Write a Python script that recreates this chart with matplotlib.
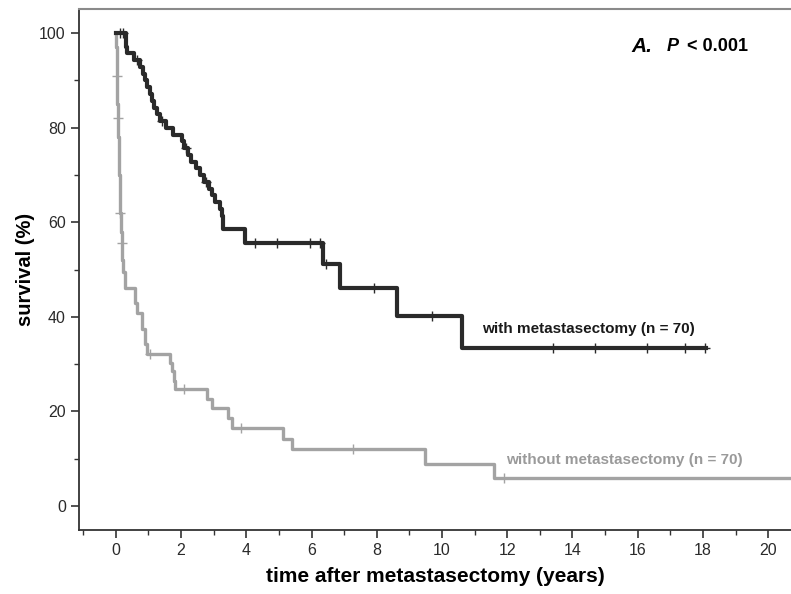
import matplotlib
matplotlib.use("Agg")
import matplotlib.pyplot as plt
from matplotlib.ticker import MultipleLocator

plt.rcParams["font.family"] = ["Liberation Sans", "DejaVu Sans"]

# Kaplan-Meier steps (time in years, survival in %)
with_t = [0, 0.30, 0.33, 0.55, 0.75, 0.82, 0.90, 0.97, 1.05, 1.10, 1.17, 1.25,
          1.35, 1.55, 1.75, 2.03, 2.08, 2.20, 2.30, 2.45, 2.58, 2.70, 2.85,
          2.95, 3.05, 3.18, 3.25, 3.28, 3.96, 6.35, 6.87, 8.62, 10.6, 18.1]
with_s = [100, 97.1, 95.7, 94.3, 92.8, 91.4, 90.0, 88.5, 87.1, 85.7, 84.2, 82.8,
          81.4, 80.0, 78.5, 77.1, 75.7, 74.2, 72.8, 71.4, 70.0, 68.5, 67.1,
          65.7, 64.2, 62.8, 61.4, 58.5, 55.7, 51.1, 46.0, 40.2, 33.5, 33.5]
with_cens_t = [0.12, 0.22, 0.65, 1.40, 2.15, 2.75, 4.26, 4.94, 5.95, 6.26, 6.44,
               7.9, 9.7, 13.4, 14.7, 16.3, 17.45, 18.07]
with_cens_s = [100, 100, 94.3, 81.4, 75.7, 68.5, 55.7, 55.7, 55.7, 55.7, 51.1,
               46.0, 40.2, 33.5, 33.5, 33.5, 33.5, 33.5]

without_t = [0, 0.01, 0.02, 0.03, 0.04, 0.05, 0.06, 0.08, 0.10, 0.11, 0.12, 0.14,
             0.16, 0.18, 0.20, 0.22, 0.28, 0.58, 0.65, 0.80, 0.88, 0.97,
             1.66, 1.72, 1.78, 1.80, 2.79, 2.95, 3.44, 3.55, 5.12, 5.40, 9.48,
             11.6, 20.8]
without_s = [100, 97, 94, 91, 88, 85, 82, 78, 74, 70, 66, 62,
             58, 55.5, 52, 49.4, 46, 43, 40.7, 37.5, 34.3, 32.2,
             30.3, 28.5, 26.5, 24.8, 22.7, 20.8, 18.6, 16.5, 14.2, 12.1, 8.9,
             5.9, 5.9]
without_cens_t = [0.03, 0.06, 0.14, 0.18, 1.04, 2.09, 3.83, 7.27, 11.9]
without_cens_s = [91, 82, 62, 55.5, 32.2, 24.8, 16.5, 12.1, 5.9]

dark = "#2a2a2a"
grey = "#a3a3a3"

fig = plt.figure(figsize=(7.91, 5.94), dpi=100)
ax = fig.add_axes([79 / 791, 64 / 594, 1 - 79 / 791, (530 - 9) / 594])

ax.step(without_t, without_s, where="post", color=grey, lw=2.4, zorder=2)
ax.plot(without_cens_t, without_cens_s, ls="none", marker="+", ms=7, mew=1,
        color=grey, zorder=3)
ax.step(with_t, with_s, where="post", color=dark, lw=3.0, zorder=4)
ax.plot(with_cens_t, with_cens_s, ls="none", marker="+", ms=7, mew=1,
        color=dark, zorder=5)

ax.set_xlim(-1.13, 20.7)
ax.set_ylim(-5.1, 105.1)
ax.xaxis.set_minor_locator(MultipleLocator(1))
ax.yaxis.set_minor_locator(MultipleLocator(10))
ax.set_xticks(range(0, 21, 2))
ax.set_yticks(range(0, 101, 20))
ax.tick_params(which="major", length=6, width=1.2, color="#333333",
               labelsize=11.5, labelcolor="#2a2a2a")
ax.tick_params(which="minor", length=3.5, width=1, color="#333333")

ax.spines["right"].set_visible(False)
ax.spines["top"].set_color("#8a8a8a")
ax.spines["top"].set_linewidth(1.5)
for s in ("left", "bottom"):
    ax.spines[s].set_color("#333333")
    ax.spines[s].set_linewidth(1.3)

ax.set_xlabel("time after metastasectomy (years)", fontsize=15,
              fontweight="bold", labelpad=6)
ax.set_ylabel("survival (%)", fontsize=14.5, fontweight="bold", labelpad=3)

ax.text(14.5, 37.5, "with metastasectomy (n = 70)", fontsize=11,
        fontweight="bold", color="#1a1a1a", ha="center", va="center")
ax.text(15.6, 9.8, "without metastasectomy (n = 70)", fontsize=11,
        fontweight="bold", color="#9a9a9a", ha="center", va="center")

# panel tag and p-value
ax.text(15.8, 97.2, "A.", fontsize=15, fontweight="bold", style="italic",
        ha="left", va="center")
ax.text(16.9, 97.2, "P", fontsize=13, fontweight="bold", style="italic",
        ha="left", va="center")
ax.text(17.5, 97.2, "< 0.001", fontsize=13, fontweight="bold",
        ha="left", va="center")

fig.savefig("out.png", dpi=100)
